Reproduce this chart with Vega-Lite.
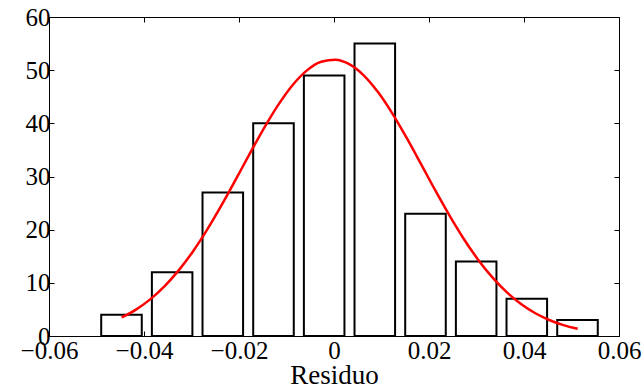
{
  "$schema": "https://vega.github.io/schema/vega-lite/v6.json",
  "width": 570,
  "height": 319,
  "autosize": {"type": "none"},
  "padding": {"left": 49, "top": 17, "right": 25, "bottom": 54},
  "background": "white",
  "config": {
    "view": {"stroke": "black", "strokeWidth": 1},
    "font": "Liberation Serif, Times New Roman, serif",
    "axis": {
      "grid": false,
      "domain": false,
      "tickColor": "black",
      "tickSize": -5,
      "tickWidth": 1,
      "labelFlush": false,
      "labelOverlap": false,
      "labelFont": "Liberation Serif, Times New Roman, serif",
      "labelFontSize": 25,
      "labelColor": "black",
      "titleFont": "Liberation Serif, Times New Roman, serif",
      "titleFontSize": 27,
      "titleFontWeight": "normal",
      "titleColor": "black"
    }
  },
  "datasets": {
    "bins": [
      {"lo": -0.04901, "hi": -0.04047, "count": 4},
      {"lo": -0.03834, "hi": -0.02981, "count": 12},
      {"lo": -0.02768, "hi": -0.01914, "count": 27},
      {"lo": -0.01701, "hi": -0.00847, "count": 40},
      {"lo": -0.00634, "hi": 0.00220, "count": 49},
      {"lo": 0.00432, "hi": 0.01286, "count": 55},
      {"lo": 0.01499, "hi": 0.02353, "count": 23},
      {"lo": 0.02566, "hi": 0.03420, "count": 14},
      {"lo": 0.03632, "hi": 0.04486, "count": 7},
      {"lo": 0.04699, "hi": 0.05553, "count": 3}
    ],
    "fit": [
      {"x": -0.0447, "y": 3.49}, {"x": -0.0417, "y": 4.97}, {"x": -0.0387, "y": 6.89},
      {"x": -0.0357, "y": 9.34}, {"x": -0.0327, "y": 12.34}, {"x": -0.0297, "y": 15.90},
      {"x": -0.0267, "y": 20.00}, {"x": -0.0237, "y": 24.55}, {"x": -0.0207, "y": 29.40},
      {"x": -0.0177, "y": 34.34}, {"x": -0.0147, "y": 39.14}, {"x": -0.0117, "y": 43.51},
      {"x": -0.0087, "y": 47.21}, {"x": -0.0057, "y": 49.96}, {"x": -0.0027, "y": 51.59},
      {"x": 0.0003, "y": 51.97}, {"x": 0.0033, "y": 51.09}, {"x": 0.0063, "y": 48.99},
      {"x": 0.0093, "y": 45.83}, {"x": 0.0123, "y": 41.83}, {"x": 0.0153, "y": 37.25},
      {"x": 0.0183, "y": 32.37}, {"x": 0.0213, "y": 27.43}, {"x": 0.0243, "y": 22.69},
      {"x": 0.0273, "y": 18.30}, {"x": 0.0303, "y": 14.41}, {"x": 0.0333, "y": 11.07},
      {"x": 0.0363, "y": 8.29}, {"x": 0.0393, "y": 6.06}, {"x": 0.0423, "y": 4.32},
      {"x": 0.0453, "y": 3.01}, {"x": 0.0483, "y": 2.04}, {"x": 0.0513, "y": 1.35}
    ]
  },
  "layer": [
    {
      "data": {"name": "bins"},
      "mark": {"type": "rect", "fill": "white", "stroke": "black", "strokeWidth": 2},
      "encoding": {
        "x": {
          "field": "lo", "type": "quantitative",
          "scale": {"domain": [-0.06, 0.06], "nice": false, "zero": false},
          "axis": {
            "orient": "bottom",
            "values": [-0.06, -0.04, -0.02, 0, 0.02, 0.04, 0.06],
            "labelExpr": "datum.value == 0 ? '0' : format(datum.value, '.2f')",
            "labelPadding": 7,
            "title": "Residuo",
            "titleBaseline": "alphabetic",
            "titleY": 47
          }
        },
        "x2": {"field": "hi"},
        "y": {
          "field": "count", "type": "quantitative",
          "scale": {"domain": [0, 60], "nice": false},
          "axis": {
            "orient": "left",
            "values": [0, 10, 20, 30, 40, 50, 60],
            "labelPadding": 4,
            "title": null
          }
        },
        "y2": {"datum": 0}
      }
    },
    {
      "data": {"name": "fit"},
      "mark": {"type": "line", "color": "#ff0000", "strokeWidth": 2.5, "interpolate": "monotone"},
      "encoding": {
        "x": {
          "field": "x", "type": "quantitative",
          "axis": {
            "orient": "top",
            "values": [-0.06, -0.04, -0.02, 0, 0.02, 0.04, 0.06],
            "labels": false,
            "title": null
          }
        },
        "y": {
          "field": "y", "type": "quantitative",
          "axis": {
            "orient": "right",
            "values": [0, 10, 20, 30, 40, 50, 60],
            "labels": false,
            "title": null
          }
        }
      }
    }
  ]
}
